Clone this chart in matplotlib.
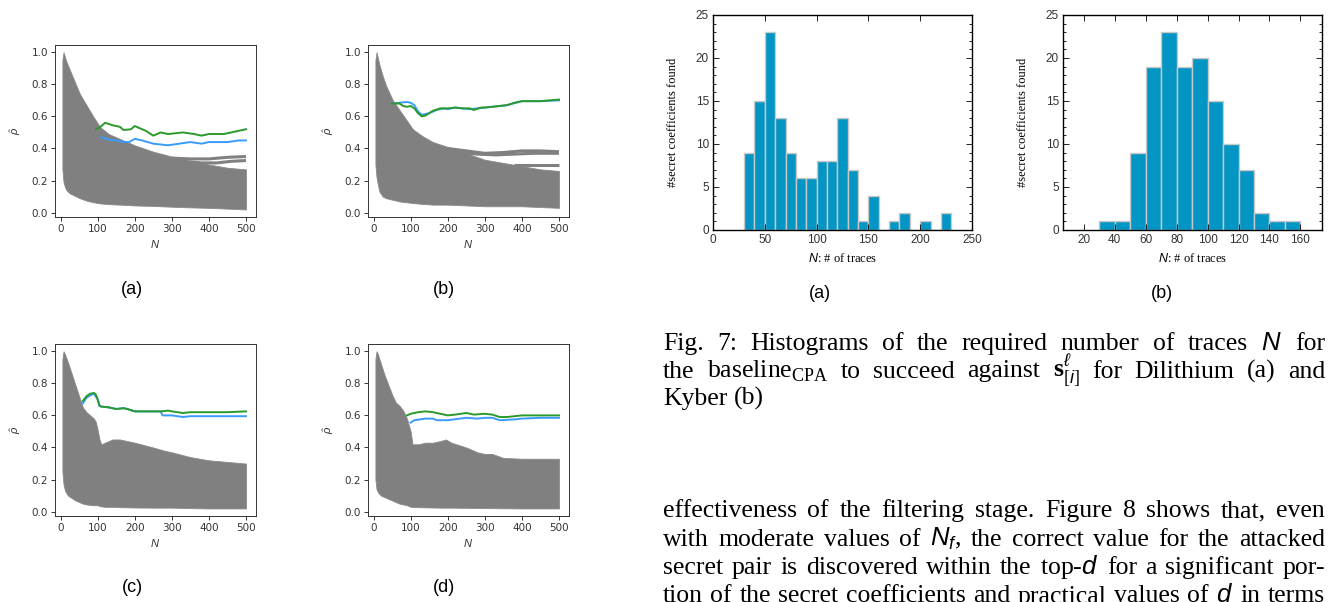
import matplotlib
matplotlib.use("Agg")
import matplotlib.pyplot as plt
from matplotlib.ticker import MultipleLocator

plt.rcParams["mathtext.fontset"] = "custom"
plt.rcParams["mathtext.rm"] = "Liberation Serif"
plt.rcParams["mathtext.it"] = "Liberation Sans:italic"
plt.rcParams["mathtext.bf"] = "Liberation Serif:bold"

W, H = 1328, 602

# ---- correlation plots: envelope of the wrong-guess traces (gray), correct guesses
A_N = [5, 8, 12, 16, 25, 34, 52, 70, 88, 106, 130, 160, 200, 250, 300, 350, 400, 450, 500]
A_UP = [0.95, 1.0, 0.97, 0.94, 0.89, 0.84, 0.74, 0.67, 0.60, 0.535, 0.49, 0.46, 0.42,
        0.38, 0.35, 0.32, 0.30, 0.28, 0.27]
A_LO = [0.27, 0.19, 0.16, 0.14, 0.12, 0.11, 0.09, 0.075, 0.065, 0.058, 0.053, 0.05, 0.045,
        0.042, 0.037, 0.033, 0.03, 0.025, 0.02]
A_SEP = [([300, 350, 400, 450, 500], [0.34, 0.335, 0.335, 0.345, 0.35]),
         ([330, 380, 420, 460, 500], [0.32, 0.31, 0.31, 0.32, 0.325])]
A_GN = [95, 105, 120, 140, 160, 170, 190, 200, 210, 230, 250, 270, 290, 330, 360, 380, 400,
        440, 460, 480, 500]
A_GV = [0.52, 0.53, 0.56, 0.545, 0.535, 0.515, 0.52, 0.54, 0.53, 0.51, 0.48, 0.50, 0.49,
        0.50, 0.49, 0.48, 0.49, 0.49, 0.50, 0.51, 0.52]
A_BN = [110, 130, 150, 170, 185, 200, 220, 250, 270, 290, 320, 350, 380, 400, 450, 480, 500]
A_BV = [0.47, 0.455, 0.45, 0.44, 0.44, 0.46, 0.45, 0.43, 0.425, 0.42, 0.43, 0.44, 0.43,
        0.44, 0.44, 0.45, 0.45]

B_N = [5, 8, 12, 16, 25, 34, 52, 70, 88, 106, 130, 160, 200, 250, 300, 350, 400, 450, 500]
B_UP = [0.95, 1.0, 0.96, 0.92, 0.85, 0.79, 0.70, 0.64, 0.58, 0.52, 0.48, 0.44, 0.41,
        0.37, 0.33, 0.31, 0.29, 0.27, 0.26]
B_LO = [0.30, 0.22, 0.17, 0.13, 0.10, 0.09, 0.08, 0.07, 0.065, 0.06, 0.055, 0.05, 0.05,
        0.045, 0.04, 0.04, 0.04, 0.035, 0.03]
B_SEP = [([200, 250, 300, 350, 400, 450, 500], [0.40, 0.385, 0.37, 0.375, 0.385, 0.385, 0.38]),
         ([230, 280, 330, 380, 430, 500], [0.375, 0.365, 0.36, 0.365, 0.37, 0.37]),
         ([380, 420, 460, 500], [0.30, 0.30, 0.30, 0.30])]
B_GN = [50, 60, 70, 80, 90, 100, 110, 120, 130, 140, 150, 160, 180, 200, 220, 240, 260, 270,
        290, 300, 320, 340, 360, 380, 400, 450, 500]
B_GV = [0.68, 0.68, 0.68, 0.665, 0.66, 0.665, 0.65, 0.62, 0.60, 0.605, 0.62, 0.635, 0.65,
        0.65, 0.655, 0.65, 0.65, 0.64, 0.655, 0.655, 0.66, 0.665, 0.67, 0.685, 0.695, 0.695, 0.705]
B_BN = [50, 70, 90, 100, 110, 120, 130, 150, 170, 190, 200, 220, 260, 280, 320, 360, 400, 450, 500]
B_BV = [0.68, 0.685, 0.69, 0.685, 0.67, 0.63, 0.61, 0.62, 0.64, 0.65, 0.645, 0.655, 0.645,
        0.65, 0.66, 0.67, 0.695, 0.695, 0.70]

C_N = [5, 8, 12, 20, 30, 40, 50, 60, 70, 80, 90, 95, 100, 105, 110, 120, 140, 160, 180, 200,
       250, 280, 300, 350, 400, 450, 500]
C_UP = [0.95, 1.0, 0.98, 0.93, 0.86, 0.79, 0.72, 0.65, 0.62, 0.60, 0.58, 0.56, 0.51, 0.45,
        0.42, 0.43, 0.45, 0.45, 0.44, 0.43, 0.40, 0.38, 0.37, 0.34, 0.32, 0.31, 0.30]
C_LO = [0.25, 0.17, 0.13, 0.10, 0.085, 0.07, 0.06, 0.05, 0.045, 0.042, 0.04, 0.04, 0.04,
        0.035, 0.033, 0.03, 0.03, 0.028, 0.027, 0.026, 0.025, 0.025, 0.025, 0.022, 0.02,
        0.02, 0.02]
C_SEP = []
C_GN = [60, 70, 80, 90, 95, 100, 105, 110, 130, 150, 170, 180, 200, 220, 250, 270, 290, 300,
        330, 350, 400, 450, 500]
C_GV = [0.69, 0.72, 0.735, 0.74, 0.73, 0.70, 0.66, 0.655, 0.65, 0.64, 0.645, 0.64, 0.625,
        0.625, 0.625, 0.625, 0.63, 0.625, 0.615, 0.62, 0.62, 0.62, 0.625]
C_BN = [60, 70, 80, 90, 100, 105, 110, 130, 150, 170, 180, 200, 220, 250, 270, 275, 300, 330,
        350, 400, 450, 500]
C_BV = [0.675, 0.71, 0.725, 0.735, 0.70, 0.66, 0.655, 0.65, 0.64, 0.645, 0.64, 0.625, 0.625,
        0.625, 0.625, 0.60, 0.60, 0.59, 0.595, 0.595, 0.595, 0.595]

D_N = [5, 8, 12, 20, 30, 40, 50, 60, 70, 80, 90, 100, 105, 120, 140, 160, 180, 195, 210,
       250, 280, 300, 320, 350, 400, 450, 500]
D_UP = [0.95, 1.0, 0.98, 0.92, 0.85, 0.79, 0.73, 0.68, 0.66, 0.63, 0.58, 0.50, 0.42, 0.42,
        0.43, 0.43, 0.44, 0.45, 0.43, 0.40, 0.37, 0.36, 0.36, 0.335, 0.33, 0.33, 0.33]
D_LO = [0.20, 0.14, 0.12, 0.10, 0.09, 0.08, 0.07, 0.06, 0.05, 0.045, 0.04, 0.03, 0.03,
        0.028, 0.027, 0.026, 0.025, 0.025, 0.025, 0.024, 0.023, 0.022, 0.022, 0.021, 0.02,
        0.02, 0.02]
D_SEP = []
D_GN = [90, 100, 120, 140, 160, 180, 200, 220, 250, 270, 300, 320, 340, 360, 380, 400, 450, 500]
D_GV = [0.60, 0.61, 0.62, 0.625, 0.62, 0.61, 0.60, 0.605, 0.615, 0.605, 0.61, 0.605, 0.59,
        0.59, 0.595, 0.60, 0.60, 0.60]
D_BN = [100, 110, 140, 160, 170, 200, 250, 280, 300, 320, 340, 380, 400, 450, 500]
D_BV = [0.555, 0.57, 0.58, 0.58, 0.57, 0.57, 0.585, 0.58, 0.585, 0.585, 0.57, 0.575, 0.58,
        0.585, 0.585]

PANELS = [
    ("(a)", A_N, A_UP, A_LO, A_SEP, A_GN, A_GV, A_BN, A_BV),
    ("(b)", B_N, B_UP, B_LO, B_SEP, B_GN, B_GV, B_BN, B_BV),
    ("(c)", C_N, C_UP, C_LO, C_SEP, C_GN, C_GV, C_BN, C_BV),
    ("(d)", D_N, D_UP, D_LO, D_SEP, D_GN, D_GV, D_BN, D_BV),
]

# ---- histograms (bins of width 10)
DIL_EDGES = list(range(30, 240, 10))
DIL_COUNTS = [9, 15, 23, 13, 9, 6, 6, 8, 8, 13, 7, 1, 4, 0, 1, 2, 0, 1, 0, 2]
KYB_EDGES = list(range(30, 170, 10))
KYB_COUNTS = [1, 1, 9, 19, 23, 19, 20, 15, 10, 7, 2, 1, 1]

CAPTION = [
    "Fig. 7: Histograms of the required number of traces $N$ for",
    r"the baseline$_{\mathrm{CPA}}$ to succeed against $\mathbf{s}^{\ell}_{[i]}$ for Dilithium (a) and",
    "Kyber (b)",
]
BODY = [
    "effectiveness of the filtering stage. Figure 8 shows that, even",
    "with moderate values of $N_f$, the correct value for the attacked",
    "secret pair is discovered within the top-$d$ for a significant por-",
    "tion of the secret coefficients and practical values of $d$ in terms",
]

fig = plt.figure(figsize=(W / 100, H / 100), dpi=100)


def px_axes(l, t, r, b):
    return fig.add_axes([l / W, 1 - b / H, (r - l) / W, (b - t) / H])


def fig_label(x, y, s, **kw):
    fig.text(x / W, 1 - y / H, s, ha="center", va="center", **kw)


line_boxes = [(55, 45, 256, 217), (368, 45, 569, 217),
              (55, 344, 256, 516), (368, 344, 569, 516)]
label_pos = [(132, 290), (444, 290), (132, 587), (444, 587)]

for box, lp, (lab, n, up, lo, sep, gn, gv, bn, bv) in zip(line_boxes, label_pos, PANELS):
    ax = px_axes(*box)
    ax.fill_between(n, lo, up, color="#808080", lw=0.6, edgecolor="#8a8a8a")
    for sn, sv in sep:
        ax.plot(sn, sv, color="#808080", lw=2.2, solid_capstyle="butt")
    ax.plot(bn, bv, color="#3a9bff", lw=1.4)
    ax.plot(gn, gv, color="#2a9a2a", lw=1.4)
    ax.set_xlim(-15, 527)
    ax.set_ylim(-0.027, 1.045)
    ax.set_xticks([0, 100, 200, 300, 400, 500])
    ax.set_yticks([0.0, 0.2, 0.4, 0.6, 0.8, 1.0])
    ax.tick_params(labelsize=7.5, colors="#333333", length=3, width=0.7, pad=2)
    for sp in ax.spines.values():
        sp.set_color("#333333")
        sp.set_linewidth(0.7)
    ax.set_xlabel("$N$", fontsize=8, color="#333333", labelpad=3)
    ax.set_ylabel(r"$\hat{\rho}$", fontsize=8, color="#333333", labelpad=6)
    fig_label(*lp, lab, fontsize=13, family="Liberation Sans")

hist_boxes = [(713, 15, 972, 230), (1063, 15, 1322, 230)]
hist_data = [(DIL_EDGES, DIL_COUNTS, (0, 250), [0, 50, 100, 150, 200, 250], (820, 293), "(a)"),
             (KYB_EDGES, KYB_COUNTS, (6.5, 174), [20, 40, 60, 80, 100, 120, 140, 160],
              (1162, 293), "(b)")]

for box, (edges, counts, xl, xt, lp, lab) in zip(hist_boxes, hist_data):
    ax = px_axes(*box)
    ax.bar(edges[:-1], counts, width=10, align="edge", color="#0396c4",
           edgecolor="#c9c9c9", linewidth=1.0)
    ax.set_xlim(*xl)
    ax.set_ylim(0, 25)
    ax.set_xticks(xt)
    ax.set_yticks([0, 5, 10, 15, 20, 25])
    ax.yaxis.set_minor_locator(MultipleLocator(1))
    ax.tick_params(which="both", direction="in", top=True, right=True,
                   labelsize=8.5, labelcolor="#333333", width=0.6, pad=3)
    ax.tick_params(which="major", length=4)
    ax.tick_params(which="minor", length=2)
    for lbl in ax.get_xticklabels() + ax.get_yticklabels():
        lbl.set_family("Liberation Sans")
    for sp in ax.spines.values():
        sp.set_linewidth(1.0)
    ax.set_xlabel("$N$: # of traces", fontsize=9, family="Liberation Serif", labelpad=4)
    ax.set_ylabel("#secret coefficients found", fontsize=9, family="Liberation Serif",
                  labelpad=12)
    fig_label(*lp, lab, fontsize=13, family="Liberation Sans")

renderer = fig.canvas.get_renderer()


def text_block(lines, x0, x1, y0, dy, size, ragged_last):
    for i, line in enumerate(lines):
        words = line.split(" ")
        objs = [fig.text(0, 0, w, fontsize=size, family="Liberation Serif", va="baseline")
                for w in words]
        widths = [o.get_window_extent(renderer).width for o in objs]
        if ragged_last and i == len(lines) - 1:
            gap = size * 100 / 72 * 0.25
        else:
            gap = (x1 - x0 - sum(widths)) / (len(words) - 1)
        x = x0
        y = y0 + i * dy
        for o, w in zip(objs, widths):
            o.set_position((x / W, 1 - y / H))
            x += w + gap


text_block(CAPTION, 663, 1325, 350, 27.5, 18.5, True)
text_block(BODY, 663, 1325, 517, 28.5, 18.5, False)

fig.savefig("out.png", dpi=100)
